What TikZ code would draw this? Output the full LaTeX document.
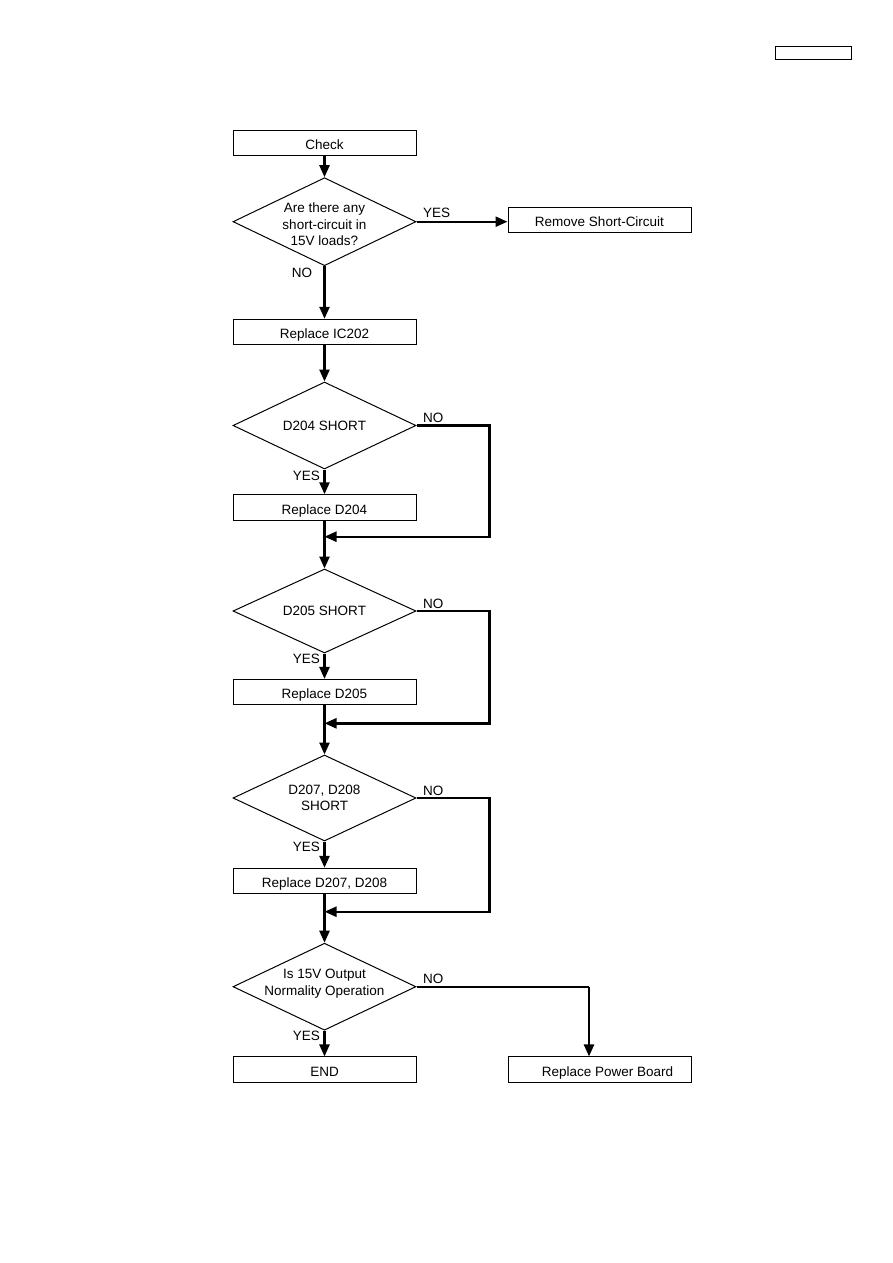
\documentclass[tikz,border=0pt]{standalone}
\usepackage{fontspec}
\setmainfont{Liberation Sans}
\usetikzlibrary{shapes.geometric,arrows.meta}
\begin{document}
\begin{tikzpicture}[x=1pt,y=-1pt,
  every node/.style={font=\fontsize{13.5}{16.5}\selectfont},
  box/.style={draw,line width=1pt,rectangle,minimum width=183pt,minimum height=25.5pt,inner sep=0pt,text height=13pt,text depth=0pt},
  diam/.style={draw,line width=1pt,diamond,minimum width=183pt,minimum height=87pt,inner sep=0pt},
  dtext/.style={align=center,inner sep=0pt},
  arr/.style={line width=2.4pt,-{Triangle[length=12pt,width=10pt]}},
  lab/.style={inner sep=0pt}]
\useasboundingbox (0,0) rectangle (893,1263);
% header box
\node[draw,line width=1pt,minimum width=76pt,minimum height=13pt,inner sep=0pt] (hdr) at (813,52.7) {};
% left column
\node[box] (check) at (324.5,143) {Check};
\node[diam,minimum height=88pt] (d1) at (324.5,221.7) {};
\node[dtext,yshift=-2.5pt] (d1t) at (d1) {Are there any\\short-circuit in\\15V loads?};
\node[box] (remove) at (599.5,220) {Remove Short-Circuit};
\node[box] (ic) at (324.5,332) {Replace IC202};
\node[diam] (d2) at (324.5,425.5) {};
\node[dtext] (d2t) at (d2) {D204 SHORT};
\node[box] (r204) at (324.5,507.5) {Replace D204};
\node[diam,minimum height=84pt] (d3) at (324.5,611) {};
\node[dtext] (d3t) at (d3) {D205 SHORT};
\node[box] (r205) at (324.5,692.2) {Replace D205};
\node[diam,minimum height=86pt] (d4) at (324.5,798) {};
\node[dtext] (d4t) at (d4) {D207, D208\\SHORT};
\node[box] (r207) at (324.5,881) {Replace D207, D208};
\node[diam] (d5) at (324.5,986.7) {};
\node[dtext,yshift=3pt] (d5t) at (d5) {Is 15V Output\\Normality Operation};
\node[box] (end) at (324.5,1069.7) {END};
\node[box] (power) at (599.5,1069.7) {\hspace*{16pt}Replace Power Board};
% junctions
\coordinate (j2) at (324.5,536.7);
\coordinate (j3) at (324.5,723.3);
\coordinate (j4) at (324.5,911.7);
\coordinate (p5) at (589,986.7);
% connectors
\draw[arr] (check) -- (d1);
\draw[arr] (d1.east) -- (remove.west |- d1.east);
\draw[arr] (d1) -- (ic);
\draw[arr] (ic) -- (d2);
\draw[arr] (d2) -- (r204);
\draw[arr] (d2.east) -- ++(73,0) |- (j2);
\draw[arr] (r204) -- (d3);
\draw[arr] (d3) -- (r205);
\draw[arr] (d3.east) -- ++(73,0) |- (j3);
\draw[arr] (r205) -- (d4);
\draw[arr] (d4) -- (r207);
\draw[arr] (d4.east) -- ++(73,0) |- (j4);
\draw[arr] (r207) -- (d5);
\draw[arr] (d5) -- (end);
\draw[line width=2.4pt] (d5.east) -- (p5);
\draw[arr] (p5) -- (p5 |- power.north);
% labels
\node[lab,anchor=west] (y1) at (423,213) {YES};
\node[lab] (n1) at (302,273) {NO};
\node[lab,anchor=west] (n2) at (423,418) {NO};
\node[lab,anchor=east] (y2) at (320,476) {YES};
\node[lab,anchor=west] (n3) at (423,603.5) {NO};
\node[lab,anchor=east] (y3) at (320,658.5) {YES};
\node[lab,anchor=west] (n4) at (423,790.5) {NO};
\node[lab,anchor=east] (y4) at (320,847) {YES};
\node[lab,anchor=west] (n5) at (423,978.5) {NO};
\node[lab,anchor=east] (y5) at (320,1036) {YES};
\end{tikzpicture}
\end{document}
